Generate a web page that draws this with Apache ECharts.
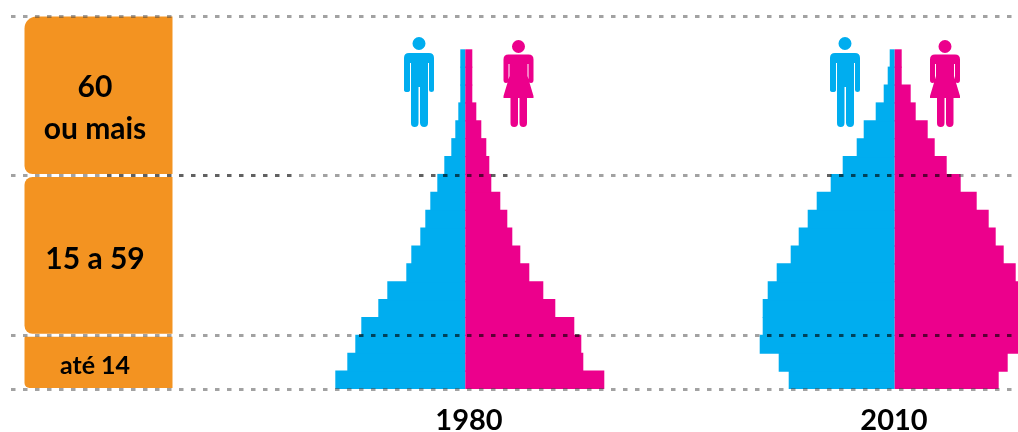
<!DOCTYPE html>
<html>
<head>
<meta charset="utf-8">
<style>
  html, body {margin: 0; padding: 0; background: #fff; overflow: hidden;}
  #chart {width: 1018px; height: 432px;}
</style>
<script src="https://cdn.jsdelivr.net/npm/echarts@6/dist/echarts.min.js"></script>
</head>
<body>
<div id="chart"></div>
<script>
// five year age groups, youngest first
const ageGroups = ['0-4', '5-9', '10-14', '15-19', '20-24', '25-29', '30-34', '35-39', '40-44', '45-49',
    '50-54', '55-59', '60-64', '65-69', '70-74', '75-79', '80-84', '85-89', '90+'];
const male1980 = [130, 118, 110, 104, 87, 78, 59, 54, 45, 40, 35, 28, 21, 14, 10, 7, 5, 5, 5];
const female1980 = [139, 118, 116, 109, 90, 78, 64, 55, 47, 42, 35, 26, 24, 21, 16, 11, 7, 7, 7];
const male2010 = [106, 116, 135, 132, 132, 127, 118, 104, 96, 87, 78, 64, 52, 38, 31, 19, 11, 7, 5];
const female2010 = [104, 113, 134, 134, 131, 127, 121, 109, 101, 94, 82, 66, 52, 40, 33, 21, 16, 7, 7];
const years = ['1980', '2010'];
const panelLabels = ['até 14', '15 a 59', '60\nou mais'];
const ageBreaks = [0, 15, 59.6, 104];

const BLUE = '#00adef';
const PINK = '#ec008c';
const ORANGE = '#f39321';
const FONT = 'Lato';

// rows are 17.88px, so the age axis runs from 389 up to 16.5
const TOP = 16.5;
const HEIGHT = 372.5;
const PYRAMID_TOP = 49.3;
const PYRAMID_H = 339.7;
const HALF = 150;
const CENTERS = [465.3, 894.7];
const WIDTH = 1018;

const MAN = 'M15 0a6.5 6.5 0 1 1-.01 0ZM5 16H25Q30 16 30 21V53Q30 55 27.5 55T25 53V26H24V86Q24 90 20.2 90T16 86V50H14.5V86Q14.5 90 10.7 90T7 86V26H6V53Q6 55 3 55T0 53V21Q0 16 5 16Z';
const WOMAN = 'M15 0a6.5 6.5 0 1 1-.01 0ZM5 14.5H25Q30 14.5 30 19.5V40Q30 43 27.5 43T25 40V24H24V36L30 56V58H23.5V83Q23.5 87 19.8 87T16 83V58H14.5V83Q14.5 87 10.7 87T7 83V58H0V56L6 36V24H5V40Q5 43 2.5 43T0 40V19.5Q0 14.5 5 14.5Z';
const icons = [
    {path: MAN, x: 404, y: 37, w: 30, h: 90, fill: BLUE},
    {path: WOMAN, x: 503.5, y: 40, w: 30, h: 87, fill: PINK},
    {path: MAN, x: 830, y: 37, w: 30, h: 90, fill: BLUE},
    {path: WOMAN, x: 930, y: 40, w: 30, h: 87, fill: PINK}
];

// a bit wider than the 17.88px band so no seam shows between rows
const BAR_W = 19;

const pyramid = (index, male, female) => [
    {
        type: 'bar', xAxisIndex: index, yAxisIndex: index, data: male, z: 3,
        barWidth: BAR_W, barGap: '-100%',
        itemStyle: {color: BLUE},
        silent: true
    },
    {
        type: 'bar', xAxisIndex: index, yAxisIndex: index, data: female, z: 3,
        barWidth: BAR_W, barGap: '-100%',
        itemStyle: {color: PINK},
        silent: true
    }
];

const panelFonts = [25, 30, 30];
const panelOffsets = [4, 4, 13];
const panelRadius = [[1, 0, 0, 5], [8, 0, 0, 8], [12, 0, 0, 8]];

const renderPanel = (params, api) => {
    const i = params.dataIndex;
    const a = api.coord([24.5, api.value(0)]);
    const b = api.coord([172.5, api.value(1)]);
    const gap = i === 0 ? 1 : 1.5;
    const y = b[1] + (i === 2 ? 0 : 1.5);
    const h = a[1] - gap - y;
    return {
        type: 'group',
        children: [
            {
                type: 'rect',
                shape: {x: a[0], y: y, width: b[0] - a[0], height: h, r: panelRadius[i]},
                style: {fill: ORANGE}
            },
            {
                type: 'text',
                style: {
                    text: panelLabels[i],
                    x: 95,
                    y: y + h / 2 + panelOffsets[i],
                    align: 'center',
                    verticalAlign: 'middle',
                    font: 'bold ' + panelFonts[i] + 'px ' + FONT,
                    lineHeight: 42,
                    fill: '#000'
                }
            }
        ]
    };
};

const renderIcon = (params) => {
    const it = icons[params.dataIndex];
    return {
        type: 'path',
        shape: {pathData: it.path, layout: 'cover', x: it.x, y: it.y, width: it.w, height: it.h},
        style: {fill: it.fill}
    };
};

const GREY = 'rgba(70,70,70,0.5)';
const DARK = 'rgba(0,0,0,0.62)';

const refLine = (age, from, to, color) => [
    {coord: [from, age], lineStyle: {color: color}},
    {coord: [to, age]}
];

const option = {
    animation: false,
    title: [
        {text: years[0], left: 469, top: 406, textAlign: 'center'},
        {text: years[1], left: 894, top: 406, textAlign: 'center'}
    ].map(t => Object.assign(t, {
        padding: 0,
        textStyle: {fontFamily: FONT, fontWeight: 'bold', fontSize: 29, color: '#000'}
    })),
    grid: [
        {left: CENTERS[0] - HALF, width: HALF * 2, top: PYRAMID_TOP, height: PYRAMID_H},
        {left: CENTERS[1] - HALF, width: WIDTH - CENTERS[1] + HALF, top: PYRAMID_TOP, height: PYRAMID_H},
        {left: 0, width: WIDTH, top: TOP, height: HEIGHT}
    ],
    xAxis: [
        {type: 'value', gridIndex: 0, min: -HALF, max: HALF, show: false},
        // the right side of 2010 runs off the page in the reference
        {type: 'value', gridIndex: 1, min: -HALF, max: WIDTH - CENTERS[1], show: false},
        {type: 'value', gridIndex: 2, min: 0, max: WIDTH, show: false}
    ],
    yAxis: [
        {type: 'category', gridIndex: 0, data: ageGroups, show: false},
        {type: 'category', gridIndex: 1, data: ageGroups, show: false},
        {type: 'value', gridIndex: 2, min: 0, max: ageBreaks[3], show: false}
    ],
    series: [
        {
            type: 'custom',
            xAxisIndex: 2,
            yAxisIndex: 2,
            z: 1,
            silent: true,
            clip: false,
            renderItem: renderPanel,
            data: panelLabels.map((l, i) => [ageBreaks[i], ageBreaks[i + 1]])
        },
        ...pyramid(0, male1980.map(v => -v), female1980),
        ...pyramid(1, male2010.map(v => -v), female2010),
        {
            type: 'custom',
            xAxisIndex: 2,
            yAxisIndex: 2,
            z: 4,
            silent: true,
            renderItem: renderIcon,
            data: icons.map((it, i) => [i])
        },
        {
            type: 'line',
            xAxisIndex: 2,
            yAxisIndex: 2,
            data: [],
            z: 6,
            silent: true,
            markLine: {
                silent: true,
                animation: false,
                symbol: 'none',
                label: {show: false},
                lineStyle: {type: [4.5, 7.5], width: 3, cap: 'butt'},
                data: [
                    refLine(ageBreaks[0], 11, WIDTH, GREY),
                    refLine(ageBreaks[1], 11, 359, GREY),
                    refLine(ageBreaks[1], 359, 587, DARK),
                    refLine(ageBreaks[1], 587, 767, GREY),
                    refLine(ageBreaks[1], 767, WIDTH, DARK),
                    refLine(ageBreaks[2], 11, 107, GREY),
                    refLine(ageBreaks[2], 107, 299, DARK),
                    refLine(ageBreaks[2], 299, 419, GREY),
                    refLine(ageBreaks[2], 419, 515, DARK),
                    refLine(ageBreaks[2], 515, 827, GREY),
                    refLine(ageBreaks[2], 827, 959, DARK),
                    refLine(ageBreaks[2], 959, WIDTH, GREY),
                    refLine(ageBreaks[3], 11, WIDTH, GREY)
                ]
            }
        }
    ]
};

const myChart = echarts.init(document.getElementById('chart'));
myChart.setOption(option);
</script>
</body>
</html>
